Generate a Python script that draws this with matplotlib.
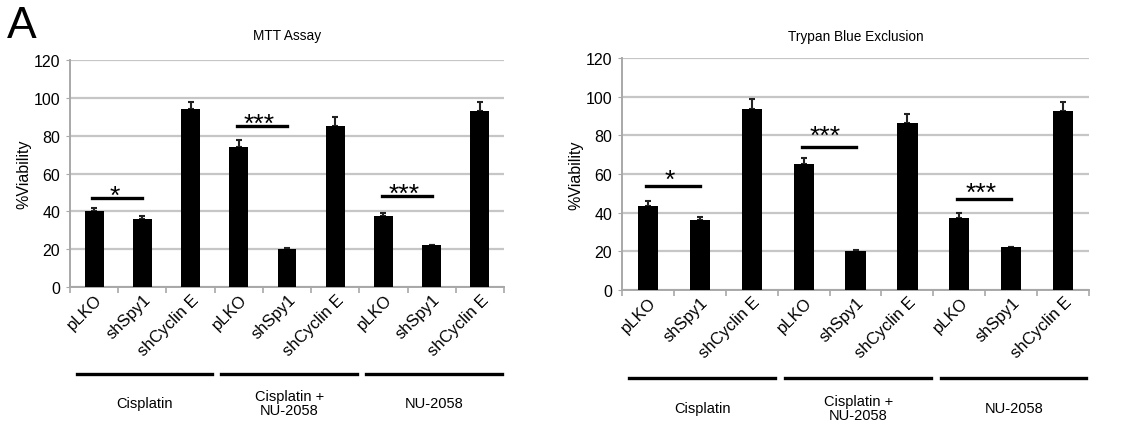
import matplotlib
matplotlib.use("Agg")
import matplotlib.pyplot as plt
import matplotlib.transforms as mtransforms
import numpy as np

# --- data ---
categories = ["pLKO", "shSpy1", "shCyclin E"] * 3
groups = ["Cisplatin", "Cisplatin +\nNU-2058", "NU-2058"]

mtt_vals = [40.1, 36.1, 94.0, 73.9, 20.1, 85.3, 37.3, 22.0, 93.1]
mtt_err = [1.9, 1.7, 4.0, 4.0, 0.6, 4.4, 1.8, 0.4, 4.6]
trypan_vals = [43.2, 36.0, 93.5, 65.0, 19.9, 86.5, 37.2, 22.0, 92.7]
trypan_err = [2.8, 1.5, 5.4, 3.3, 0.7, 4.8, 2.8, 0.4, 4.7]

# significance: (left bar, right bar, line height, star height, label)
mtt_sig = [(0, 1, 47.2, 51.6, "*"), (3, 4, 85.0, 89.7, "***"), (6, 7, 47.9, 52.8, "***")]
trypan_sig = [(0, 1, 53.8, 60.3, "*"), (3, 4, 73.8, 83.0, "***"), (6, 7, 46.9, 53.6, "***")]

plt.rcParams['font.family'] = ['Liberation Sans', 'DejaVu Sans']
GRID = "#c6c6c6"
AXC = "#a8a8a8"

fig = plt.figure(figsize=(11.46, 4.27), dpi=100)


def panel(rect, title, vals, errs, sig, tpad):
    ax = fig.add_axes(rect)
    x = np.arange(len(vals))
    ax.bar(x, vals, width=0.39, color="black", zorder=3)
    ax.errorbar(x, vals, yerr=[np.zeros(len(errs)), errs], fmt="none",
                ecolor="#222222", elinewidth=1.5, capsize=2.5, capthick=1.5, zorder=2)
    ax.set_xlim(-0.5, len(vals) - 0.5)
    ax.set_ylim(0, 120)
    ax.set_yticks(range(0, 121, 20))
    ax.yaxis.grid(True, color=GRID, linewidth=1.6, zorder=0)
    ax.set_axisbelow(True)
    for s in ["top", "right"]:
        ax.spines[s].set_visible(False)
    for s in ["left", "bottom"]:
        ax.spines[s].set_color(AXC)
        ax.spines[s].set_linewidth(1.4)
    ax.tick_params(axis="y", labelsize=11.5, length=3, color=AXC, pad=4)
    ax.set_xticks(x)
    ax.set_xticklabels(categories, rotation=45, ha="right", va="center",
                       rotation_mode="anchor", fontsize=12)
    ax.tick_params(axis="x", which="major", length=0, pad=7)
    ax.set_xticks(np.arange(-0.5, len(vals), 1.0), minor=True)
    ax.tick_params(axis="x", which="minor", length=4, color=AXC, width=1.2)
    off = mtransforms.ScaledTranslation(0.06, 0, fig.dpi_scale_trans)
    for lbl in ax.get_xticklabels():
        lbl.set_transform(lbl.get_transform() + off)
    ax.set_ylabel("%Viability", fontsize=11.5, labelpad=2)
    ax.set_title(title, fontsize=9.8, pad=tpad)

    for a, b, h, hs, s in sig:
        ax.plot([a - 0.04, b], [h, h], color="black", linewidth=2.4, zorder=4)
        ax.text((a + b) / 2 - 0.08, hs - 3.4, s, ha="center", va="center",
                fontsize=19, zorder=4)

    trans = mtransforms.blended_transform_factory(ax.transData, ax.transAxes)
    for g, name in enumerate(groups):
        ax.plot([g * 3 - 0.36, g * 3 + 2.45], [-0.383, -0.383], color="black",
                linewidth=2.4, transform=trans, clip_on=False)
        ax.text(g * 3 + 1.05, -0.51, name, ha="center", va="center",
                fontsize=10.5, transform=trans, linespacing=1.05)
    return ax


panel([0.0611, 0.3255, 0.3787, 0.5316], "MTT Assay", mtt_vals, mtt_err, mtt_sig, 15)
panel([0.5428, 0.319, 0.4075, 0.542], "Trypan Blue Exclusion",
      trypan_vals, trypan_err, trypan_sig, 13)

fig.text(0.006, 0.985, "A", fontsize=32, ha="left", va="top")

fig.savefig("out.png", dpi=100)
